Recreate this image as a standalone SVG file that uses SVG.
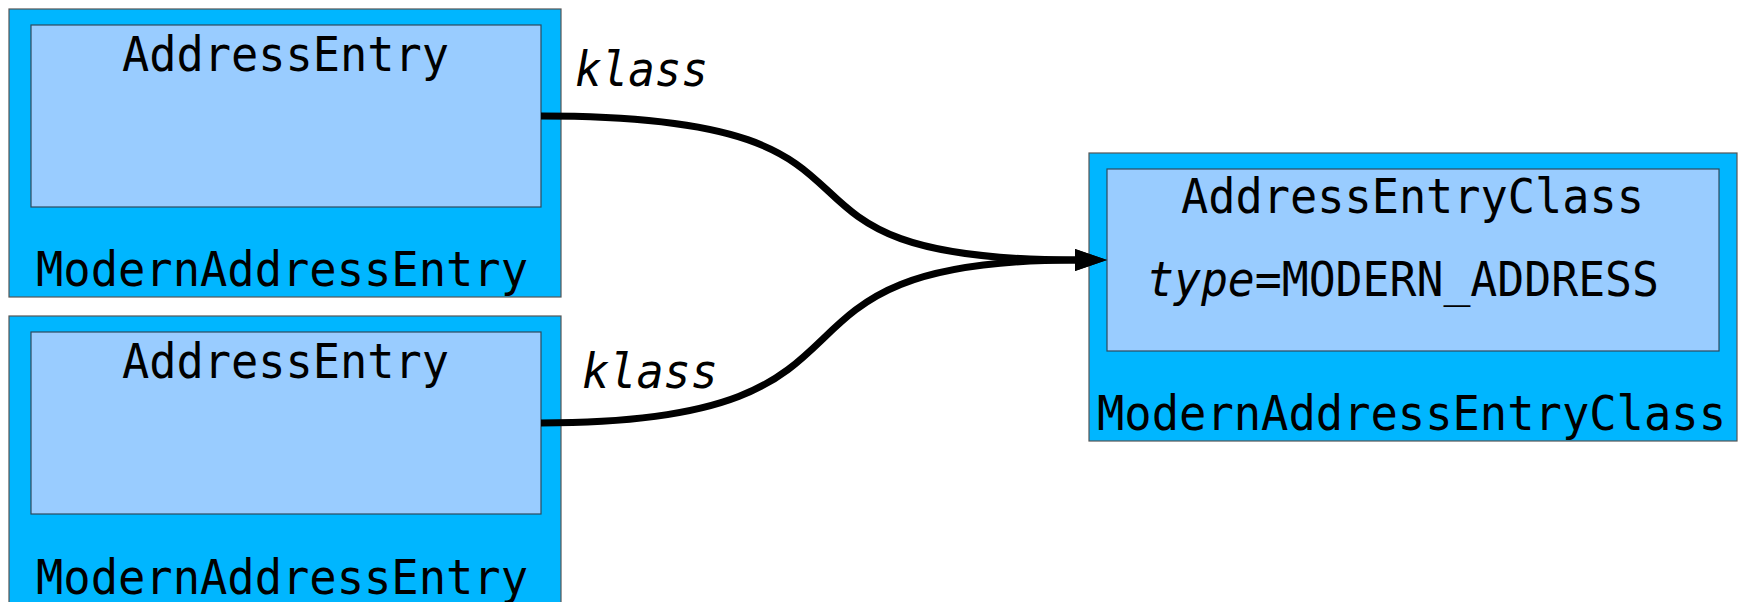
<svg xmlns="http://www.w3.org/2000/svg" width="1739" height="602" viewBox="0 0 1739 602">
  <style>
    .outer { fill: #00b6ff; stroke: #555; stroke-width: 1.2; }
    .inner { fill: #99ccff; stroke: #2e4a5e; stroke-width: 1.2; }
    .t { font-family: "DejaVu Sans Mono", "Liberation Mono", monospace; font-size: 48px; fill: #000; }
    .it { font-style: italic; }
    .edge { fill: none; stroke: #000; stroke-width: 7; }
  </style>
  <defs>
    <marker id="arrow" markerUnits="userSpaceOnUse" markerWidth="32" markerHeight="22" refX="1" refY="11" orient="auto">
      <path d="M0,0 L32,11 L0,22 Z" fill="#000"/>
    </marker>
  </defs>

  <g id="entry1">
    <rect class="outer" x="9" y="9" width="552" height="288"/>
    <rect class="inner" x="31" y="25" width="510" height="182"/>
    <text class="t" x="122" y="71" textLength="327" lengthAdjust="spacingAndGlyphs">AddressEntry</text>
    <text class="t" x="36" y="286" textLength="492" lengthAdjust="spacingAndGlyphs">ModernAddressEntry</text>
  </g>

  <g id="entry2">
    <rect class="outer" x="9" y="316" width="552" height="288"/>
    <rect class="inner" x="31" y="332" width="510" height="182"/>
    <text class="t" x="122" y="378" textLength="327" lengthAdjust="spacingAndGlyphs">AddressEntry</text>
    <text class="t" x="36" y="594" textLength="492" lengthAdjust="spacingAndGlyphs">ModernAddressEntry</text>
  </g>

  <g id="entryClass">
    <rect class="outer" x="1089" y="153" width="648" height="288"/>
    <rect class="inner" x="1107" y="169" width="612" height="182"/>
    <text class="t" x="1181" y="213" textLength="463" lengthAdjust="spacingAndGlyphs">AddressEntryClass</text>
    <text class="t" x="1147" y="296" textLength="512" lengthAdjust="spacingAndGlyphs"><tspan class="it">type</tspan>=MODERN_ADDRESS</text>
    <text class="t" x="1097" y="430" font-size="46" textLength="629" lengthAdjust="spacingAndGlyphs">ModernAddressEntryClass</text>
  </g>

  <g id="connectors">
    <path class="edge" d="M541,116 C944,116 717,260 1076,260" marker-end="url(#arrow)"/>
    <path class="edge" d="M541,423 C922,423 726,260 1076,260" marker-end="url(#arrow)"/>
    <text class="t it" x="575" y="86" textLength="133" lengthAdjust="spacingAndGlyphs">klass</text>
    <text class="t it" x="582" y="388" textLength="136" lengthAdjust="spacingAndGlyphs">klass</text>
  </g>
</svg>
